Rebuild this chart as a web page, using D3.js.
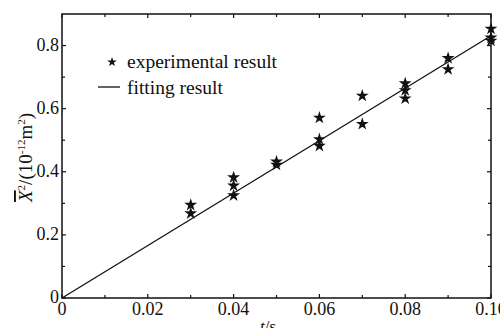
<!DOCTYPE html>
<html>
<head>
<meta charset="utf-8">
<script src="https://cdn.jsdelivr.net/npm/d3@7"></script>
<style>
  body { margin: 0; background: #fff; }
  text { font-family: "Liberation Serif", "Times New Roman", serif; fill: #111; }
</style>
</head>
<body>
<script>
// measured points: time (s) and mean square displacement (10^-12 m^2)
var expT = [0.03, 0.03, 0.04, 0.04, 0.04, 0.05, 0.05, 0.06, 0.06, 0.06,
            0.07, 0.07, 0.08, 0.08, 0.08, 0.09, 0.09, 0.10, 0.10, 0.10];
var expX2 = [0.295, 0.268, 0.382, 0.356, 0.325, 0.432, 0.422, 0.571, 0.503, 0.482,
             0.641, 0.551, 0.680, 0.658, 0.632, 0.760, 0.725, 0.853, 0.825, 0.815];
// fitted straight line end points
var fitT = [0, 0.10];
var fitX2 = [0, 0.831];

var xTicks = [0, 0.02, 0.04, 0.06, 0.08, 0.10];
var xTickLabels = ["0", "0.02", "0.04", "0.06", "0.08", "0.10"];
var yTicks = [0, 0.2, 0.4, 0.6, 0.8];
var yTickLabels = ["0", "0.2", "0.4", "0.6", "0.8"];
var xMinor = [0.01, 0.03, 0.05, 0.07, 0.09];
var yMinor = [0.1, 0.3, 0.5, 0.7];

var margin = {top: 14, right: 9, bottom: 30, left: 62},
    width = 500 - margin.left - margin.right,
    height = 328 - margin.top - margin.bottom;

var x = d3.scaleLinear().domain([0, 0.10]).range([0, width]);
var y = d3.scaleLinear().domain([0, 0.9]).range([height, 0]);

var svg = d3.select("body").append("svg")
    .attr("width", 500)
    .attr("height", 328)
  .append("g")
    .attr("transform", "translate(" + margin.left + "," + margin.top + ")");

// frame
svg.append("rect")
    .attr("width", width).attr("height", height)
    .attr("fill", "none").attr("stroke", "#111").attr("stroke-width", 1.5);

// inward ticks on all four sides
function ticks(vals, len) {
  vals.forEach(function(v) {
    svg.append("line").attr("x1", x(v)).attr("x2", x(v))
      .attr("y1", height).attr("y2", height - len).attr("stroke", "#111").attr("stroke-width", 1.2);
    svg.append("line").attr("x1", x(v)).attr("x2", x(v))
      .attr("y1", 0).attr("y2", len).attr("stroke", "#111").attr("stroke-width", 1.2);
  });
}
function yticks(vals, len) {
  vals.forEach(function(v) {
    svg.append("line").attr("x1", 0).attr("x2", len)
      .attr("y1", y(v)).attr("y2", y(v)).attr("stroke", "#111").attr("stroke-width", 1.2);
    svg.append("line").attr("x1", width).attr("x2", width - len)
      .attr("y1", y(v)).attr("y2", y(v)).attr("stroke", "#111").attr("stroke-width", 1.2);
  });
}
ticks(xTicks, 4); ticks(xMinor, 3);
yticks(yTicks, 4); yticks(yMinor, 3);

// tick labels
svg.selectAll(".xl").data(xTicks).enter().append("text")
    .attr("x", function(d) { return x(d); })
    .attr("y", height + 17)
    .attr("text-anchor", "middle")
    .style("font-size", "18px")
    .text(function(d, i) { return xTickLabels[i]; });
svg.selectAll(".yl").data(yTicks).enter().append("text")
    .attr("x", -3)
    .attr("y", function(d) { return y(d) + 5; })
    .attr("text-anchor", "end")
    .style("font-size", "18px")
    .text(function(d, i) { return yTickLabels[i]; });

// axis titles
var xt = svg.append("text")
    .attr("x", 206).attr("y", height + 34)
    .attr("text-anchor", "middle").style("font-size", "17px");
xt.append("tspan").style("font-style", "italic").text("t");
xt.append("tspan").text("/s");

var yt = svg.append("text")
    .attr("transform", "translate(-30," + (202 - margin.top) + ") rotate(-90)")
    .style("font-size", "19px");
yt.append("tspan").style("font-style", "italic").style("text-decoration", "overline").text("X");
yt.append("tspan").attr("dy", -7).style("font-size", "11px").text("2");
yt.append("tspan").attr("dy", 7).text("/(10");
yt.append("tspan").attr("dy", -7).style("font-size", "11px").text("-12");
yt.append("tspan").attr("dy", 7).text("m");
yt.append("tspan").attr("dy", -7).style("font-size", "11px").text("2");
yt.append("tspan").attr("dy", 7).text(")");

// fitting line
var line = d3.line()
    .x(function(d) { return x(d[0]); })
    .y(function(d) { return y(d[1]); });
svg.append("path")
    .datum(fitT.map(function(t, i) { return [t, fitX2[i]]; }))
    .attr("d", line)
    .attr("fill", "none").attr("stroke", "#111").attr("stroke-width", 1.3);

// experimental points
var star = d3.symbol().type(d3.symbolStar).size(14);
svg.selectAll(".pt").data(expT).enter().append("path")
    .attr("d", star)
    .attr("transform", function(d, i) { return "translate(" + x(d) + "," + y(expX2[i]) + ")"; })
    .attr("fill", "#111").attr("stroke", "#111").attr("stroke-width", 2);

// legend
svg.append("path")
    .attr("d", d3.symbol().type(d3.symbolStar).size(8))
    .attr("transform", "translate(" + 50 + "," + 48 + ")")
    .attr("fill", "#111").attr("stroke", "#111").attr("stroke-width", 1.5);
svg.append("text").attr("x", 65).attr("y", 54).style("font-size", "19.5px").text("experimental result");
svg.append("line").attr("x1", 36).attr("x2", 58).attr("y1", 73).attr("y2", 73)
    .attr("stroke", "#111").attr("stroke-width", 1.3);
svg.append("text").attr("x", 65).attr("y", 80).style("font-size", "19.5px").text("fitting result");
</script>
</body>
</html>
